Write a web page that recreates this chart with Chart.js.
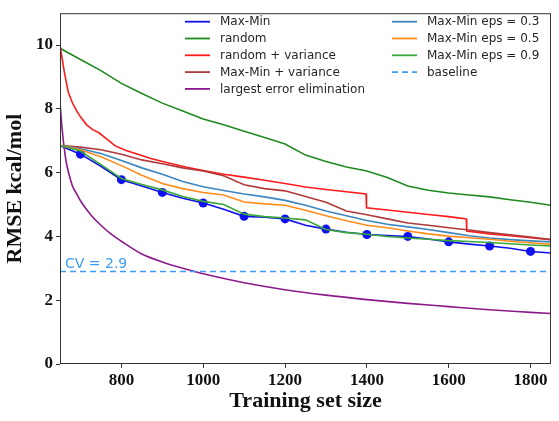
<!DOCTYPE html>
<html>
<head>
<meta charset="utf-8">
<script src="https://cdn.jsdelivr.net/npm/chart.js@4.4.0/dist/chart.umd.min.js"></script>
<style>
  body { margin: 0; background: #fff; }
</style>
</head>
<body>
<canvas id="rmse" width="559" height="421"></canvas>
<script>
// training set sizes shared by most curves
const sizes = [650, 700, 750, 800, 850, 900, 950, 1000, 1050, 1100, 1150, 1200, 1250,
  1300, 1350, 1400, 1450, 1500, 1550, 1600, 1650, 1700, 1750, 1800, 1850];

const maxMin = [6.85, 6.58, 6.2, 5.78, 5.58, 5.38, 5.2, 5.05, 4.85, 4.63, 4.6, 4.55, 4.35,
  4.23, 4.13, 4.06, 4.03, 4.0, 3.92, 3.83, 3.76, 3.7, 3.63, 3.53, 3.48];
const random = [9.9, 9.55, 9.2, 8.8, 8.48, 8.18, 7.93, 7.68, 7.5, 7.3, 7.1, 6.9, 6.55,
  6.35, 6.18, 6.05, 5.85, 5.58, 5.45, 5.36, 5.3, 5.24, 5.15, 5.07, 4.98];
const maxMinVar = [6.85, 6.8, 6.72, 6.58, 6.4, 6.28, 6.15, 6.05, 5.9, 5.62, 5.5, 5.43, 5.25,
  5.07, 4.8, 4.68, 4.55, 4.42, 4.35, 4.27, 4.2, 4.12, 4.05, 3.98, 3.9];
const eps03 = [6.85, 6.75, 6.6, 6.38, 6.15, 5.95, 5.72, 5.56, 5.44, 5.33, 5.24, 5.13, 4.98,
  4.8, 4.65, 4.5, 4.38, 4.3, 4.22, 4.12, 4.02, 3.95, 3.9, 3.86, 3.83];
const eps05 = [6.85, 6.72, 6.5, 6.22, 5.92, 5.66, 5.5, 5.38, 5.3, 5.08, 5.02, 4.98, 4.82,
  4.65, 4.49, 4.35, 4.27, 4.17, 4.08, 4.01, 3.96, 3.91, 3.85, 3.8, 3.75];
const eps09 = [6.85, 6.68, 6.25, 5.82, 5.63, 5.46, 5.25, 5.1, 5.0, 4.7, 4.62, 4.58, 4.52,
  4.22, 4.12, 4.07, 4.0, 3.95, 3.91, 3.87, 3.84, 3.81, 3.77, 3.73, 3.7];

// random + variance has two sharp drops
const rvSizes = [650, 655, 660, 670, 680, 690, 700, 715, 730, 745, 760, 785, 810, 840, 870,
  910, 960, 1000, 1050, 1100, 1150, 1200, 1250, 1300, 1350, 1398, 1399, 1450, 1500, 1550,
  1600, 1643, 1644, 1700, 1750, 1800, 1850];
const randomVar = [10.0, 9.6, 9.2, 8.53, 8.2, 7.95, 7.75, 7.5, 7.35, 7.25, 7.1, 6.84, 6.7,
  6.58, 6.45, 6.32, 6.17, 6.07, 5.95, 5.86, 5.76, 5.66, 5.55, 5.47, 5.4, 5.33, 4.9, 4.83,
  4.76, 4.69, 4.62, 4.55, 4.17, 4.08, 4.02, 3.96, 3.9];

// largest error elimination falls fast at the start
const leeSizes = [650, 655, 660, 665, 670, 680, 690, 700, 725, 750, 775, 800, 850, 900, 950,
  1000, 1100, 1200, 1300, 1400, 1500, 1600, 1700, 1800, 1850];
const largestErr = [8.2, 7.4, 6.8, 6.35, 6.05, 5.6, 5.35, 5.12, 4.68, 4.35, 4.07, 3.85, 3.45,
  3.2, 3.0, 2.83, 2.55, 2.33, 2.16, 2.02, 1.9, 1.8, 1.7, 1.62, 1.58];

const cvValue = 2.9;
const xTicks = [800, 1000, 1200, 1400, 1600, 1800];
const yTicks = [0, 2, 4, 6, 8, 10];

function pts(xs, ys) {
  return xs.map((x, i) => ({ x: x, y: ys[i] }));
}

const series = [
  { label: 'Max-Min', data: pts(sizes, maxMin), color: '#1010f0' },
  { label: 'random', data: pts(sizes, random), color: '#1f8a1f' },
  { label: 'random + variance', data: pts(rvSizes, randomVar), color: '#ff1a1a' },
  { label: 'Max-Min + variance', data: pts(sizes, maxMinVar), color: '#b03a3a' },
  { label: 'largest error elimination', data: pts(leeSizes, largestErr), color: '#8b1a8b', smooth: true },
  { label: 'Max-Min eps = 0.3', data: pts(sizes, eps03), color: '#3b86c0' },
  { label: 'Max-Min eps = 0.5', data: pts(sizes, eps05), color: '#ff8c1a' },
  { label: 'Max-Min eps = 0.9', data: pts(sizes, eps09), color: '#3aa83a' },
  { label: 'baseline', data: pts([650, 1850], [cvValue, cvValue]), color: '#3d9df5', dash: [6, 4] }
];

const datasets = series.map((s, i) => ({
  label: s.label,
  data: s.data,
  borderColor: s.color,
  backgroundColor: s.color,
  borderWidth: 1.6,
  borderDash: s.dash || [],
  tension: 0,
  cubicInterpolationMode: s.smooth ? 'monotone' : 'default',
  order: series.length - i,
  pointRadius: i === 0 ? s.data.map(p => (p.x % 100 === 0 && p.x >= 700 && p.x <= 1800) ? 4.5 : 0) : 0,
  pointBorderWidth: 0
}));

const serif = 'Liberation Serif';

const extras = {
  id: 'extras',
  afterDraw(chart) {
    const ctx = chart.ctx;
    const a = chart.chartArea;
    ctx.save();
    ctx.strokeStyle = '#333';
    ctx.lineWidth = 1;
    ctx.setLineDash([]);
    ctx.strokeRect(a.left + 0.5, a.top + 0.5, a.right - a.left - 1, a.bottom - a.top - 1);

    // CV label above the baseline
    const yb = chart.scales.y.getPixelForValue(cvValue);
    ctx.fillStyle = '#3d9df5';
    ctx.font = '14px "DejaVu Sans"';
    ctx.textBaseline = 'alphabetic';
    ctx.textAlign = 'left';
    ctx.fillText('CV = ' + cvValue, a.left + 5, yb - 3.5);

    // two column legend
    ctx.font = '12px "DejaVu Sans"';
    ctx.textBaseline = 'middle';
    chart.data.datasets.forEach((ds, i) => {
      const col = i < 5 ? 0 : 1;
      const row = i < 5 ? i : i - 5;
      const x0 = col === 0 ? 185 : 392;
      const y0 = 21.7 + row * 16.8;
      ctx.strokeStyle = ds.borderColor;
      ctx.lineWidth = 1.8;
      ctx.setLineDash(ds.borderDash || []);
      ctx.beginPath();
      ctx.moveTo(x0, y0);
      ctx.lineTo(x0 + 25, y0);
      ctx.stroke();
      ctx.setLineDash([]);
      ctx.fillStyle = '#262626';
      ctx.fillText(ds.label, x0 + 35, y0 + 0.5);
    });
    ctx.restore();
  }
};

new Chart(document.getElementById('rmse'), {
  type: 'line',
  data: { datasets: datasets },
  options: {
    responsive: false,
    animation: false,
    layout: { padding: { top: 7, right: 8, left: 0, bottom: 0 } },
    plugins: {
      legend: { display: false },
      tooltip: { enabled: false }
    },
    scales: {
      x: {
        type: 'linear',
        min: 650,
        max: 1850,
        afterBuildTicks: axis => { axis.ticks = xTicks.map(v => ({ value: v })); },
        afterFit: axis => { axis.height = 57; },
        grid: { drawOnChartArea: false, drawTicks: true, tickLength: 4, color: '#333' },
        border: { display: false },
        ticks: {
          padding: 2,
          color: '#111',
          maxRotation: 0,
          callback: v => String(v),
          font: { family: serif, size: 17, weight: 'bold' }
        },
        title: {
          display: true,
          text: 'Training set size',
          color: '#111',
          padding: { top: 0, bottom: 6 },
          font: { family: serif, size: 22, weight: 'bold' }
        }
      },
      y: {
        min: 0,
        max: 11,
        afterBuildTicks: axis => { axis.ticks = yTicks.map(v => ({ value: v })); },
        afterFit: axis => { axis.width = 60; },
        grid: { drawOnChartArea: false, drawTicks: true, tickLength: 4, color: '#333' },
        border: { display: false },
        ticks: {
          padding: 3,
          color: '#111',
          callback: v => String(v),
          font: { family: serif, size: 17, weight: 'bold' }
        },
        title: {
          display: true,
          text: 'RMSE kcal/mol',
          color: '#111',
          padding: 2,
          font: { family: serif, size: 22, weight: 'bold' }
        }
      }
    }
  },
  plugins: [extras]
});
</script>
</body>
</html>
